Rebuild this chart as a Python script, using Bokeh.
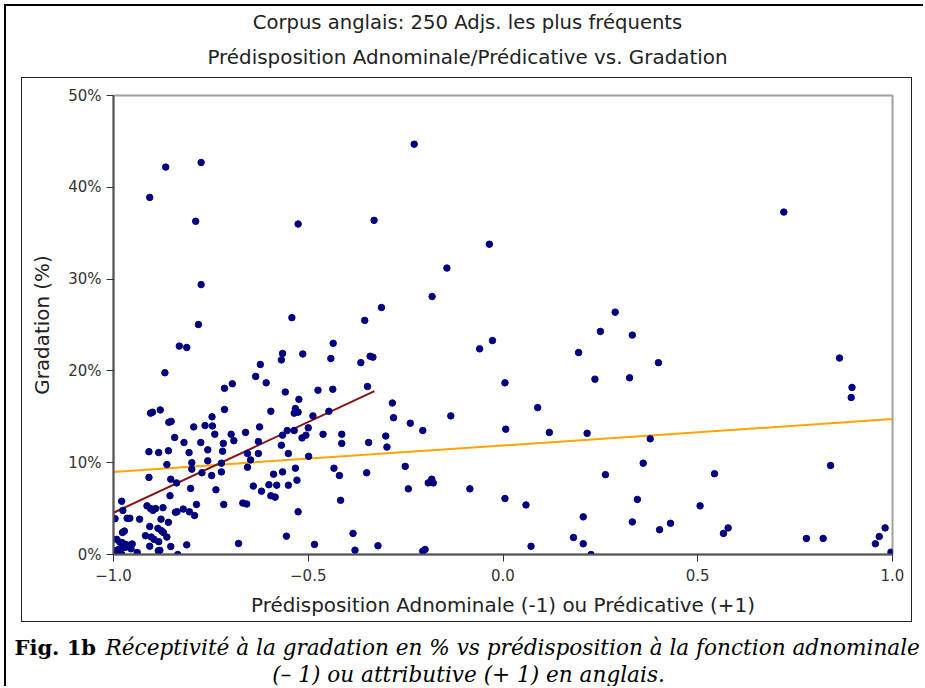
from bokeh.plotting import figure
from bokeh.models import Range1d, FixedTicker, PrintfTickFormatter, Label, ColumnDataSource
from bokeh.layouts import column
from bokeh.embed import file_html
from bokeh.resources import INLINE

# ---------------- texts ----------------
title_line1 = "Corpus anglais: 250 Adjs. les plus fréquents"
title_line2 = "Prédisposition Adnominale/Prédicative vs. Gradation"
x_label = "Prédisposition Adnominale (-1) ou Prédicative (+1)"
y_label = "Gradation (%)"
x_ticks = [-1.0, -0.5, 0.0, 0.5, 1.0]
x_tick_labels = ["\u22121.0", "\u22120.5", "0.0", "0.5", "1.0"]
y_ticks = [0, 10, 20, 30, 40, 50]
caption_bold = "Fig. 1b"
caption_line1 = "Réceptivité à la gradation en % vs prédisposition à la fonction adnominale"
caption_line2 = "(\u2013 1) ou attributive (+ 1) en anglais."

# ---------------- data ----------------
predisposition = [
    -0.866, -0.775, -0.907, -0.789, -0.526, -0.331, -0.775, -0.312, -0.542, -0.355, -0.782,
    -0.228, 0.721, -0.035, -0.144, -0.182, 0.288, 0.250, 0.332, -0.027, -0.060, 0.194,
    0.864, 0.399, 0.236, 0.325, 0.005, 0.896, 0.894, -0.284, 0.089, -0.281, -0.134,
    -0.238, -0.206, 0.007, 0.119, 0.216, -0.301, -0.298, 0.378, 0.360, 0.841, -0.251,
    0.263, 0.543, -0.183, -0.192, -0.179, -0.243, -0.085, 0.005, 0.059, 0.506, 0.345,
    0.206, 0.332, 0.430, 0.402, 0.578, 0.566, 0.181, 0.779, 0.822, 0.981, 0.966, 0.956,
    0.206, 0.072, -0.200, -0.206, 0.226, 0.996, 1.0,
    -0.436, -0.566, -0.514, -0.569, -0.442, -0.341, -0.334, -0.365, -0.623, -0.635,
    -0.608, -0.695, -0.715, -0.559, -0.475, -0.437, -0.348, -0.524, -0.715, -0.596,
    -0.533, -0.536, -0.526, -0.447, -0.488, -0.625, -0.500, -0.554, -0.536, -0.698,
    -0.661, -0.566, -0.506, -0.516, -0.462, -0.414, -0.414, -0.345, -0.691, -0.718,
    -0.628, -0.720, -0.656, -0.628, -0.569, -0.551, -0.648, -0.499, -0.723, -0.656,
    -0.533, -0.434, -0.723, -0.566, -0.589, -0.420, -0.350, -0.529, -0.641, -0.601,
    -0.581, -0.551, -0.620, -0.596, -0.585, -0.717, -0.668, -0.658, -0.417, -0.526,
    -0.556, -0.385, -0.679, -0.484, -0.321, -0.380,
    -0.831, -0.812, -0.868, -0.900, -0.905, -0.880, -0.858, -0.852, -0.843, -0.819,
    -0.806, -0.909, -0.884, -0.859, -0.794, -0.765, -0.746, -0.776, -0.758, -0.740,
    -0.747, -0.863, -0.799, -0.799, -0.758, -0.773, -0.748, -0.853, -0.838, -0.909,
    -0.802, -0.737, -0.855, -0.979, -0.914, -0.905, -0.899, -0.892, -0.873, -0.976,
    -0.841, -0.837, -0.821, -0.805, -0.792, -0.787, -0.996, -0.965, -0.958, -0.933,
    -0.878, -0.859, -0.907, -0.886, -0.877, -0.872, -0.918, -0.903, -0.896, -0.977,
    -0.972, -0.992, -0.984, -0.978, -0.969, -0.961, -0.952, -0.969, -0.976, -0.986,
    -0.955, -0.907, -0.884, -0.863, -0.853, -0.885, -0.881, -0.939, -0.835, -0.812,
    -1.0, -0.999, -0.986, -1.0, -0.992, -0.979, -0.999,
]
gradation = [
    42.2, 42.7, 38.9, 36.3, 36.0, 36.4, 29.4, 26.9, 25.8, 25.5, 25.05,
    44.7, 37.3, 33.8, 31.2, 28.1, 26.4, 24.3, 23.9, 23.3, 22.4, 22.0,
    21.4, 20.9, 19.1, 19.25, 18.7, 18.2, 17.1, 16.5, 16.0, 14.9, 15.1,
    14.3, 13.5, 13.65, 13.3, 13.2, 12.9, 11.7, 12.6, 9.95, 9.7, 9.6,
    8.7, 8.8, 8.2, 7.8, 7.8, 7.15, 7.15, 6.1, 5.4, 5.3, 6.0,
    4.1, 3.55, 3.4, 2.7, 2.9, 2.3, 1.85, 1.75, 1.75, 2.9, 1.96, 1.17,
    1.17, 0.9, 0.55, 0.36, 0.0, 0.25, 0.0,
    23.0, 21.9, 21.85, 21.2, 21.35, 21.6, 21.5, 20.9, 20.7, 19.4,
    18.7, 18.6, 18.1, 17.7, 17.9, 18.0, 18.3, 16.9, 15.8, 15.6,
    15.9, 15.4, 15.5, 15.6, 15.1, 13.9, 13.8, 13.5, 13.5, 13.1,
    13.3, 13.0, 13.0, 12.7, 13.1, 13.1, 12.1, 12.2, 12.4, 12.1,
    12.3, 11.25, 11.0, 11.0, 11.9, 11.0, 10.3, 10.7, 9.95, 9.5,
    9.4, 9.4, 9.0, 9.0, 8.75, 8.6, 8.9, 8.1, 7.45, 7.6,
    7.55, 7.55, 6.9, 6.4, 6.25, 5.45, 5.6, 5.5, 5.9, 4.65,
    2.0, 2.3, 1.2, 1.1, 0.95, 0.47,
    22.7, 22.55, 19.8, 15.5, 15.4, 15.75, 14.4, 14.5, 12.75, 12.2,
    11.1, 11.2, 11.1, 11.3, 13.9, 14.05, 14.0, 12.2, 11.4, 13.1,
    15.0, 9.8, 10.0, 9.3, 10.2, 8.9, 8.6, 8.2, 7.8, 8.4,
    7.2, 7.05, 6.4, 5.8, 5.3, 5.0, 4.8, 5.0, 5.1, 4.8,
    4.6, 4.65, 4.95, 4.65, 4.25, 5.45, 3.9, 3.95, 3.95, 3.85,
    3.85, 3.5, 3.05, 2.85, 2.6, 2.4, 2.05, 1.9, 1.65, 2.4,
    2.55, 1.65, 1.35, 1.3, 1.1, 1.0, 1.15, 0.8, 0.73, 0.58,
    0.62, 0.9, 1.4, 1.9, 0.87, 0.4, 0.45, 0.22, 0.0, 1.05,
    0.45, 0.25, 0.15, 0.0, 0.0, 0.03, 0.0,
]
# regression lines
fit_all_x = [-1.0, 1.0]
fit_all_y = [9.0, 14.75]
fit_adn_x = [-1.0, -0.33]
fit_adn_y = [4.55, 17.8]

SANS = "DejaVu Sans"
SERIF = "DejaVu Serif"


def no_frame_align(fig):
    if "frame_align" in fig.properties():
        fig.frame_align = False


# ---------------- title block ----------------
TW, TH = 917, 71
tf = figure(width=TW, height=TH, x_range=Range1d(0, TW), y_range=Range1d(0, TH),
            x_axis_type=None, y_axis_type=None, toolbar_location=None,
            output_backend="svg", min_border=0, outline_line_color=None)
no_frame_align(tf)
for yy, txt, fs in [(55, title_line1, "19.6px"), (20, title_line2, "19.9px")]:
    tf.add_layout(Label(x=461, y=yy, text=txt, text_align="center", text_baseline="middle",
                        text_font=SANS, text_font_size=fs, text_color="#222222"))

# ---------------- chart ----------------
src = ColumnDataSource(dict(x=predisposition, y=gradation))
p = figure(width=891, height=545, x_range=Range1d(-1, 1), y_range=Range1d(0, 50),
           toolbar_location=None, output_backend="svg",
           min_border_left=91, min_border_right=21, min_border_top=17, min_border_bottom=69,
           margin=(0, 0, 0, 15), styles={"border": "1px solid #222222"},
           outline_line_color="#a0a0a0", outline_line_width=2)
no_frame_align(p)
p.grid.visible = False

p.line(fit_all_x, fit_all_y, line_color="orange", line_width=2)
p.line(fit_adn_x, fit_adn_y, line_color="#8b1010", line_width=2)
p.scatter("x", "y", source=src, size=6.5, fill_color="navy", line_color="navy")

p.xaxis.ticker = FixedTicker(ticks=x_ticks)
p.xaxis.major_label_overrides = {t: l for t, l in zip(x_ticks, x_tick_labels)}
p.yaxis.ticker = FixedTicker(ticks=y_ticks)
p.yaxis.formatter = PrintfTickFormatter(format="%d%%")
p.xaxis.axis_label = x_label
p.yaxis.axis_label = y_label
for ax in (p.xaxis, p.yaxis):
    ax.minor_tick_line_color = None
    ax.major_tick_in = 0
    ax.major_tick_out = 7
    ax.major_tick_line_color = "#333333"
    ax.axis_line_color = "#555555"
    ax.axis_line_width = 2
    ax.major_label_text_font = SANS
    ax.major_label_text_font_size = "15px"
    ax.major_label_text_color = "#333333"
    ax.major_label_standoff = 5
    ax.axis_label_text_font = SANS
    ax.axis_label_text_font_size = "19.9px"
    ax.axis_label_text_font_style = "normal"
    ax.axis_label_text_color = "#222222"
p.xaxis.major_label_standoff = 7
p.xaxis.axis_label_standoff = 10
p.yaxis.axis_label_standoff = 11

# ---------------- caption ----------------
CW, CH = 917, 64
cf = figure(width=CW, height=CH, x_range=Range1d(0, CW), y_range=Range1d(0, CH),
            x_axis_type=None, y_axis_type=None, toolbar_location=None,
            output_backend="svg", min_border=0, outline_line_color=None)
no_frame_align(cf)
cf.add_layout(Label(x=8, y=39, text=caption_bold, text_align="left", text_baseline="middle",
                    text_font=SERIF, text_font_style="bold", text_font_size="21px",
                    text_color="#000000"))
cf.add_layout(Label(x=99, y=39, text=caption_line1, text_align="left", text_baseline="middle",
                    text_font=SERIF, text_font_style="italic", text_font_size="21.6px",
                    text_color="#000000"))
cf.add_layout(Label(x=462, y=12, text=caption_line2, text_align="center", text_baseline="middle",
                    text_font=SERIF, text_font_style="italic", text_font_size="21.6px",
                    text_color="#000000"))

layout = column(tf, p, cf, margin=(4, 0, 0, 4),
                styles={"border-top": "2px solid #000000",
                        "border-left": "2px solid #000000"})

open("out.html", "w").write(file_html(layout, INLINE))
